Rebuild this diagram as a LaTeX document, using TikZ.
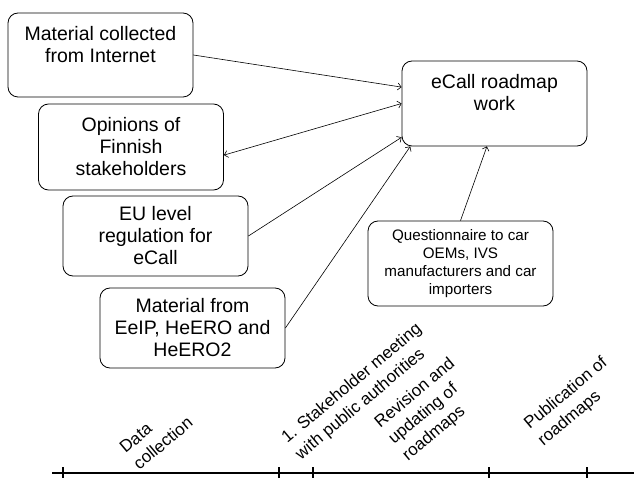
\documentclass[tikz,border=0pt]{standalone}
\usepackage{fontspec}
\setmainfont{Liberation Sans}
\usetikzlibrary{arrows.meta}

\begin{document}
\begin{tikzpicture}[x=1pt,y=-1pt,
                    >={Straight Barb[length=3.5pt,width=7pt]},
                    box/.style={draw,line width=0.8pt,rounded corners=10pt,minimum width=185pt,minimum height=84pt,align=center,inner sep=0pt,font=\fontsize{19.5}{22}\selectfont},
                    smallbox/.style={box,font=\fontsize{15.2}{18}\selectfont},
                    phase/.style={rotate=40,align=left,inner sep=0pt,font=\fontsize{17}{21.5}\selectfont}]
                    \useasboundingbox (0,0) rectangle (634,478);
                    \node[box] (inet) at (100.5,55) {Material collected\\from Internet\\\mbox{}};
                    \node[box,minimum height=86pt] (opin) at (131,147) {Opinions of\\Finnish\\stakeholders};
                    \node[box,minimum height=80pt] (eu) at (155.5,236) {EU level\\regulation for\\eCall};
                    \node[box,minimum height=80pt] (heero) at (192.5,328) {Material from\\EeIP, HeERO and\\HeERO2};
                    \node[box,minimum height=85pt] (ecall) at (494.5,103.5) {eCall roadmap\\work\\\mbox{}};
                    \node[smallbox,minimum height=85pt] (quest) at (460.5,263.5) {Questionnaire to car\\OEMs, IVS\\manufacturers and car\\importers};
                    \draw [->,line width=0.6pt] (inet.east) -- (ecall.170);
                    \draw [<->,line width=0.6pt] (opin.-5) -- (ecall.west);
                    \draw [->,line width=0.6pt] (eu.east) -- (ecall.200);
                    \draw [->,line width=0.6pt] (heero.east) -- (ecall.207);
                    \draw [->,line width=0.6pt] (quest.north) -- (ecall.260);
                    \draw [line width=2pt] (52,473) -- (634,473);
                    \foreach \x in {63,279,313,489,587}
                    \draw [line width=1.5pt] (\x,467) -- (\x,478);
                    \node[phase] (data) at (156,435) {Data\\collection};
                    \node[phase] (meet) at (359,392) {1. Stakeholder meeting\\with public authorities};
                    \node[phase] (rev) at (429,410) {Revision and\\updating of\\roadmaps};
                    \node[phase] (pub) at (573,402) {Publication of\\roadmaps};
                \end{tikzpicture}
\end{document}
